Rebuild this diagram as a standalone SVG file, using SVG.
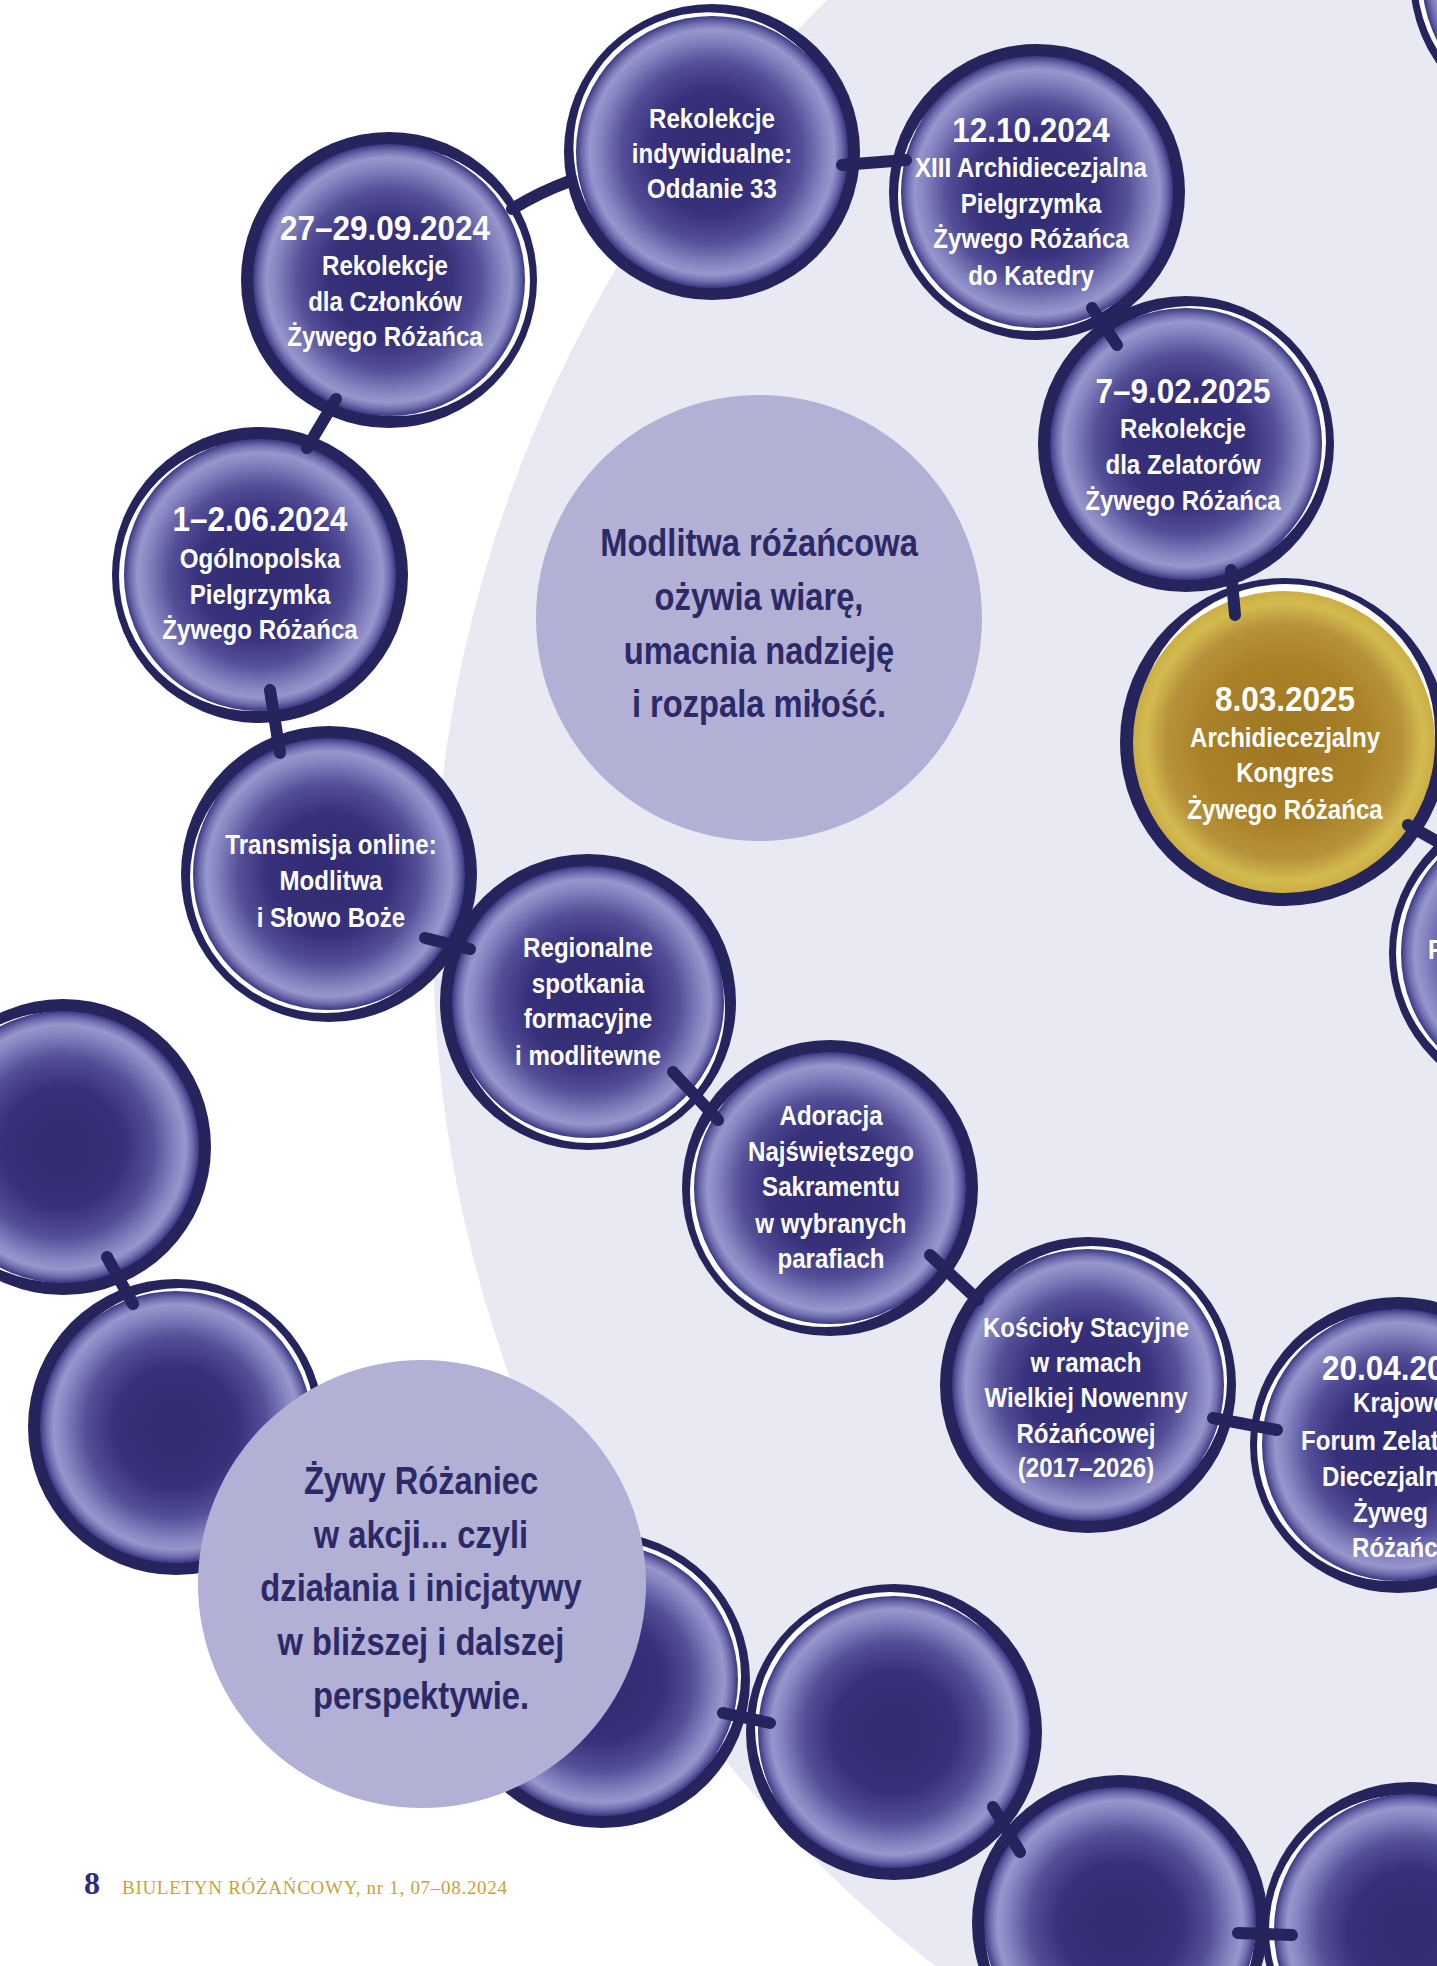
<svg xmlns="http://www.w3.org/2000/svg" width="1437" height="1966" viewBox="0 0 1437 1966">
<defs>
<radialGradient id="gBlue" cx="0.5" cy="0.5" r="0.5">
<stop offset="0" stop-color="#312b73"/>
<stop offset="0.45" stop-color="#37317b"/>
<stop offset="0.66" stop-color="#524e97"/>
<stop offset="0.83" stop-color="#8585c1"/>
<stop offset="0.9" stop-color="#9797cd"/>
<stop offset="0.95" stop-color="#7070b0"/>
<stop offset="1" stop-color="#3a3882"/>
</radialGradient>
<radialGradient id="gGold" cx="0.5" cy="0.5" r="0.5">
<stop offset="0" stop-color="#9f7722"/>
<stop offset="0.55" stop-color="#a98129"/>
<stop offset="0.78" stop-color="#b8923a"/>
<stop offset="0.92" stop-color="#d3bb50"/>
<stop offset="1" stop-color="#cbad44"/>
</radialGradient>
<style>
.ring{fill:#25245c}
.hl{fill:#ffffff}
.fb{fill:url(#gBlue)}
.fg{fill:url(#gGold)}
.t{font-family:"Liberation Sans",Arial,sans-serif;font-weight:700;fill:#ffffff;text-anchor:middle;font-size:28px;transform-box:fill-box;transform-origin:center;transform:scaleX(0.86)}
.d{font-size:35px;transform:scaleX(0.9)}
.s{text-anchor:start;transform-origin:left center}
.c{font-family:"Liberation Sans",Arial,sans-serif;font-weight:700;fill:#2b2966;text-anchor:middle;font-size:38px;transform-box:fill-box;transform-origin:center;transform:scaleX(0.86)}
.bub{fill:#b3b0d6}
.con{stroke:#25245c;stroke-width:12;stroke-linecap:round;fill:none}
</style>
</defs>
<rect x="0" y="0" width="1437" height="1966" fill="#ffffff"/>
<circle cx="1741" cy="936" r="1308" fill="#e9e9f4"/>

<g id="bead-topright">
<circle class="ring" cx="1560" cy="-22" r="150"/>
<circle class="hl" cx="1554" cy="-22" r="137"/>
<circle class="fb" cx="1560" cy="-22" r="138"/>
</g>

<g id="bead-oddanie">
<circle class="ring" cx="712" cy="152" r="148"/>
<circle class="hl" cx="708.4" cy="147.2" r="135"/>
<circle class="fb" cx="712" cy="152" r="136"/>
<text class="t" x="712" y="128">Rekolekcje</text>
<text class="t" x="712" y="163">indywidualne:</text>
<text class="t" x="712" y="198">Oddanie 33</text>
</g>

<g id="bead-2024-09">
<circle class="ring" cx="389" cy="280" r="148"/>
<circle class="hl" cx="395" cy="281" r="135"/>
<circle class="fb" cx="389" cy="280" r="136"/>
<text class="t d" x="385" y="240">27–29.09.2024</text>
<text class="t" x="385" y="275">Rekolekcje</text>
<text class="t" x="385" y="311">dla Członków</text>
<text class="t" x="385" y="346">Żywego Różańca</text>
</g>

<g id="bead-2024-06">
<circle class="ring" cx="260" cy="575" r="148"/>
<circle class="hl" cx="254" cy="576" r="135"/>
<circle class="fb" cx="260" cy="575" r="136"/>
<text class="t d" x="260" y="531">1–2.06.2024</text>
<text class="t" x="260" y="568">Ogólnopolska</text>
<text class="t" x="260" y="604">Pielgrzymka</text>
<text class="t" x="260" y="639">Żywego Różańca</text>
</g>

<g id="bead-transmisja">
<circle class="ring" cx="329" cy="874" r="148"/>
<circle class="hl" cx="325" cy="878" r="135"/>
<circle class="fb" cx="329" cy="874" r="136"/>
<text class="t" x="331" y="854">Transmisja online:</text>
<text class="t" x="331" y="890">Modlitwa</text>
<text class="t" x="331" y="927">i Słowo Boże</text>
</g>

<g id="bead-regionalne">
<circle class="ring" cx="588" cy="1002" r="148"/>
<circle class="hl" cx="590" cy="1008" r="135"/>
<circle class="fb" cx="588" cy="1002" r="136"/>
<text class="t" x="588" y="957">Regionalne</text>
<text class="t" x="588" y="993">spotkania</text>
<text class="t" x="588" y="1028">formacyjne</text>
<text class="t" x="588" y="1065">i modlitewne</text>
</g>

<g id="bead-adoracja">
<circle class="ring" cx="830" cy="1188" r="148"/>
<circle class="hl" cx="825" cy="1192" r="135"/>
<circle class="fb" cx="830" cy="1188" r="136"/>
<text class="t" x="831" y="1125">Adoracja</text>
<text class="t" x="831" y="1161">Najświętszego</text>
<text class="t" x="831" y="1196">Sakramentu</text>
<text class="t" x="831" y="1233">w wybranych</text>
<text class="t" x="831" y="1268">parafiach</text>
</g>

<g id="bead-koscioly">
<circle class="ring" cx="1088" cy="1385" r="148"/>
<circle class="hl" cx="1092" cy="1381" r="135"/>
<circle class="fb" cx="1088" cy="1385" r="136"/>
<text class="t" x="1086" y="1337">Kościoły Stacyjne</text>
<text class="t" x="1086" y="1372">w ramach</text>
<text class="t" x="1086" y="1407">Wielkiej Nowenny</text>
<text class="t" x="1086" y="1443">Różańcowej</text>
<text class="t" x="1086" y="1477">(2017–2026)</text>
</g>

<g id="bead-2025-04">
<circle class="ring" cx="1398" cy="1445" r="148"/>
<circle class="hl" cx="1392" cy="1446" r="135"/>
<circle class="fb" cx="1398" cy="1445" r="136"/>
<text class="t d s" x="1322" y="1380">20.04.20</text>
<text class="t s" x="1353" y="1412">Krajowe</text>
<text class="t s" x="1301" y="1450">Forum Zelat</text>
<text class="t s" x="1322" y="1486">Diecezjaln</text>
<text class="t s" x="1353" y="1522">Żyweg</text>
<text class="t s" x="1352" y="1557">Różańc</text>
</g>

<g id="bead-2024-10">
<circle class="ring" cx="1037" cy="192" r="148"/>
<circle class="hl" cx="1033" cy="196" r="135"/>
<circle class="fb" cx="1037" cy="192" r="136"/>
<text class="t d" x="1031" y="142">12.10.2024</text>
<text class="t" x="1031" y="177">XIII Archidiecezjalna</text>
<text class="t" x="1031" y="213">Pielgrzymka</text>
<text class="t" x="1031" y="248">Żywego Różańca</text>
<text class="t" x="1031" y="285">do Katedry</text>
</g>

<g id="bead-2025-02">
<circle class="ring" cx="1186" cy="444" r="148"/>
<circle class="hl" cx="1191" cy="441" r="135"/>
<circle class="fb" cx="1186" cy="444" r="136"/>
<text class="t d" x="1183" y="403">7–9.02.2025</text>
<text class="t" x="1183" y="438">Rekolekcje</text>
<text class="t" x="1183" y="474">dla Zelatorów</text>
<text class="t" x="1183" y="510">Żywego Różańca</text>
</g>

<g id="bead-2025-03-gold">
<circle class="ring" cx="1284" cy="742" r="164"/>
<circle class="hl" cx="1286" cy="733" r="149"/>
<circle class="fg" cx="1284" cy="742" r="151"/>
<text class="t d" x="1285" y="711">8.03.2025</text>
<text class="t" x="1285" y="747">Archidiecezjalny</text>
<text class="t" x="1285" y="782">Kongres</text>
<text class="t" x="1285" y="819">Żywego Różańca</text>
</g>

<g id="bead-right-partial">
<circle class="ring" cx="1539" cy="953" r="150"/>
<circle class="hl" cx="1533" cy="953" r="137"/>
<circle class="fb" cx="1539" cy="953" r="138"/>
<text class="t s" x="1428" y="959">F</text>
</g>

<g id="bead-blank-1">
<circle class="ring" cx="63" cy="1147" r="148"/>
<circle class="hl" cx="57" cy="1147" r="135"/>
<circle class="fb" cx="63" cy="1147" r="136"/>
</g>
<g id="bead-blank-2">
<circle class="ring" cx="176" cy="1427" r="148"/>
<circle class="hl" cx="180" cy="1423" r="135"/>
<circle class="fb" cx="176" cy="1427" r="136"/>
</g>
<g id="bead-blank-3">
<circle class="ring" cx="602" cy="1680" r="148"/>
<circle class="hl" cx="606" cy="1676" r="135"/>
<circle class="fb" cx="602" cy="1680" r="136"/>
</g>
<g id="bead-blank-4">
<circle class="ring" cx="894" cy="1732" r="148"/>
<circle class="hl" cx="890" cy="1727" r="135"/>
<circle class="fb" cx="894" cy="1732" r="136"/>
</g>
<g id="bead-blank-5">
<circle class="ring" cx="1120" cy="1923" r="148"/>
<circle class="hl" cx="1120" cy="1929" r="135"/>
<circle class="fb" cx="1120" cy="1923" r="136"/>
</g>
<g id="bead-blank-6">
<circle class="ring" cx="1410" cy="1930" r="148"/>
<circle class="hl" cx="1404" cy="1930" r="135"/>
<circle class="fb" cx="1410" cy="1930" r="136"/>
</g>

<g id="connectors">
<path class="con" d="M512,209 Q540,192 570,181"/>
<line class="con" x1="842" y1="165" x2="906" y2="160"/>
<line class="con" x1="336" y1="399" x2="307" y2="448"/>
<line class="con" x1="1092" y1="308" x2="1117" y2="345"/>
<line class="con" x1="1231" y1="570" x2="1235" y2="615"/>
<line class="con" x1="1408" y1="825" x2="1440" y2="843"/>
<line class="con" x1="270" y1="690" x2="280" y2="753"/>
<line class="con" x1="425" y1="938" x2="470" y2="949"/>
<line class="con" x1="673" y1="1072" x2="718" y2="1120"/>
<line class="con" x1="930" y1="1255" x2="978" y2="1300"/>
<line class="con" x1="1213" y1="1418" x2="1277" y2="1430"/>
<line class="con" x1="107" y1="1257" x2="133" y2="1304"/>
<line class="con" x1="723" y1="1713" x2="770" y2="1723"/>
<line class="con" x1="993" y1="1807" x2="1020" y2="1852"/>
<line class="con" x1="1238" y1="1933" x2="1292" y2="1935"/>
</g>

<g id="bubble-modlitwa">
<circle class="bub" cx="759" cy="618" r="223"/>
<text class="c" x="759" y="556">Modlitwa różańcowa</text>
<text class="c" x="759" y="610">ożywia wiarę,</text>
<text class="c" x="759" y="664">umacnia nadzieję</text>
<text class="c" x="759" y="717">i rozpala miłość.</text>
</g>

<g id="bubble-zywy">
<circle class="bub" cx="422" cy="1584" r="224"/>
<text class="c" x="421" y="1494">Żywy Różaniec</text>
<text class="c" x="421" y="1548">w akcji... czyli</text>
<text class="c" x="421" y="1601">działania i inicjatywy</text>
<text class="c" x="421" y="1655">w bliższej i dalszej</text>
<text class="c" x="421" y="1709">perspektywie.</text>
</g>

<g id="footer">
<text x="84" y="1894" font-family="Liberation Serif, serif" font-weight="bold" font-size="32" fill="#2e2a85">8</text>
<text x="122" y="1894" font-family="Liberation Serif, serif" font-size="19" fill="#c9a23c" textLength="385" lengthAdjust="spacing">BIULETYN RÓŻAŃCOWY, nr 1, 07–08.2024</text>
</g>
</svg>
